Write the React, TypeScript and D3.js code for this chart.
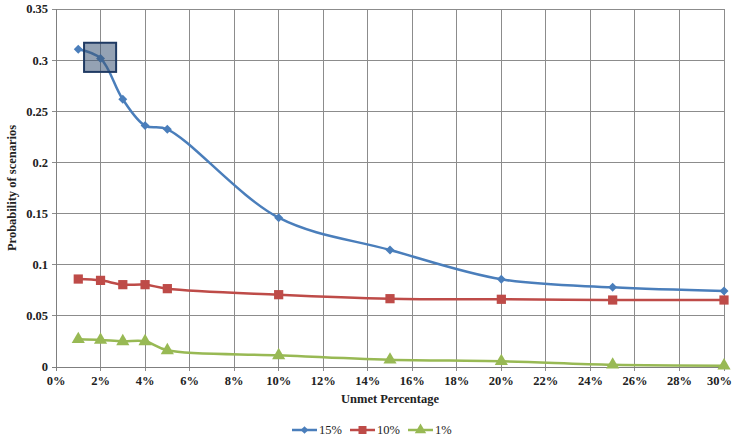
import React, { useEffect, useRef } from 'react';
import * as d3 from 'd3';

// unmet percentage (x, in %)
const unmet = [1, 2, 3, 4, 5, 10, 15, 20, 25, 30];

const series15 = [0.3106, 0.3017, 0.2617, 0.236, 0.2324, 0.146, 0.1144, 0.0857, 0.0779, 0.0743];
const series10 = [0.086, 0.0847, 0.0805, 0.0805, 0.0766, 0.0707, 0.0668, 0.0662, 0.0655, 0.0655];
const series1 = [0.0271, 0.0264, 0.0251, 0.0251, 0.0163, 0.0114, 0.0071, 0.0056, 0.0022, 0.0013];

const seriesNames = ['15%', '10%', '1%'];
const xTicks = d3.range(0, 31, 2);
const yTicks = [0, 0.05, 0.1, 0.15, 0.2, 0.25, 0.3, 0.35];

// highlighted box around the 2% point (data coords)
const boxX = [1.26, 2.7];
const boxY = [0.2885, 0.317];

const App: React.FC = () => {
  const svgRef = useRef<SVGSVGElement | null>(null);

  useEffect(() => {
    const W = 733, H = 441;
    const margin = { top: 9, right: 9, bottom: 74, left: 56 };
    const width = W - margin.left - margin.right;
    const height = H - margin.top - margin.bottom;

    const root = d3.select(svgRef.current);
    root.selectAll('*').remove();
    root.attr('width', W).attr('height', H)
      .style('background', 'white')
      .style('font-family', "'Times New Roman', 'Liberation Serif', serif");

    const svg = root.append('g').attr('transform', `translate(${margin.left},${margin.top})`);

    const x = d3.scaleLinear().domain([0, 30]).range([0, width]);
    const y = d3.scaleLinear().domain([0, 0.35]).range([height, 0]);

    const gridColor = '#8c8c8c';

    // grid
    svg.append('g')
      .selectAll('line.vg')
      .data(xTicks.slice(1))
      .enter()
      .append('line')
      .attr('x1', d => x(d)).attr('x2', d => x(d))
      .attr('y1', 0).attr('y2', height + 4)
      .attr('stroke', gridColor).attr('stroke-width', 1)
      .attr('shape-rendering', 'crispEdges');

    svg.append('g')
      .selectAll('line.hg')
      .data(yTicks.slice(1))
      .enter()
      .append('line')
      .attr('x1', -4).attr('x2', width)
      .attr('y1', d => y(d)).attr('y2', d => y(d))
      .attr('stroke', gridColor).attr('stroke-width', 1)
      .attr('shape-rendering', 'crispEdges');

    // axes lines
    svg.append('line')
      .attr('x1', -4).attr('x2', width).attr('y1', height).attr('y2', height)
      .attr('stroke', '#7f7f7f').attr('shape-rendering', 'crispEdges');
    svg.append('line')
      .attr('x1', 0).attr('x2', 0).attr('y1', 0).attr('y2', height + 4)
      .attr('stroke', '#7f7f7f').attr('shape-rendering', 'crispEdges');

    // tick labels
    svg.append('g')
      .selectAll('text')
      .data(yTicks)
      .enter()
      .append('text')
      .attr('x', -8)
      .attr('y', d => y(d))
      .attr('dy', '0.35em')
      .attr('text-anchor', 'end')
      .style('font-weight', 'bold')
      .style('font-size', '12.5px')
      .attr('fill', '#222')
      .text(d => (d === 0 ? '0' : String(d)));

    const last = xTicks[xTicks.length - 1];
    svg.append('g')
      .selectAll('text')
      .data(xTicks)
      .enter()
      .append('text')
      .attr('x', d => (d === last ? W - margin.left - 1 : x(d)))
      .attr('y', height + 18)
      .attr('text-anchor', d => (d === last ? 'end' : 'middle'))
      .style('font-weight', 'bold')
      .style('font-size', '12.5px')
      .attr('fill', '#222')
      .text(d => `${d}%`);

    // axis titles
    svg.append('text')
      .attr('x', width / 2)
      .attr('y', height + 36)
      .attr('text-anchor', 'middle')
      .style('font-weight', 'bold')
      .style('font-size', '12.5px')
      .attr('fill', '#222')
      .text('Unmet Percentage');

    svg.append('text')
      .attr('transform', `translate(${-40},${height / 2}) rotate(-90)`)
      .attr('text-anchor', 'middle')
      .style('font-weight', 'bold')
      .style('font-size', '12.5px')
      .attr('fill', '#222')
      .text('Probability of scenarios');

    const colors = ['#4a7ebb', '#be4b48', '#98b954'];
    // diamond drawn as a square turned 45 degrees
    const markers = [d3.symbolSquare, d3.symbolSquare, d3.symbolTriangle];
    const rotations = [45, 0, 0];
    const markerSizes = [40, 85, 75];
    const allSeries = [series15, series10, series1];

    const line = d3.line<number>()
      .x((_, i) => x(unmet[i]))
      .y(d => y(d))
      .curve(d3.curveCatmullRom.alpha(0.5));

    allSeries.forEach((vals, si) => {
      svg.append('path')
        .datum(vals)
        .attr('d', line)
        .attr('fill', 'none')
        .attr('stroke', colors[si])
        .attr('stroke-width', 2.5);

      svg.append('g')
        .selectAll('path')
        .data(vals)
        .enter()
        .append('path')
        .attr('transform', (d, i) => `translate(${x(unmet[i])},${y(d)}) rotate(${rotations[si]})`)
        .attr('d', d3.symbol().type(markers[si]).size(markerSizes[si])())
        .attr('fill', colors[si]);
    });

    // highlight box
    svg.append('rect')
      .attr('x', x(boxX[0]))
      .attr('y', y(boxY[1]))
      .attr('width', x(boxX[1]) - x(boxX[0]))
      .attr('height', y(boxY[0]) - y(boxY[1]))
      .attr('fill', '#3d5577')
      .attr('fill-opacity', 0.55)
      .attr('stroke', '#1f3a63')
      .attr('stroke-width', 2);

    // legend
    const legendX = [292, 350, 408];
    const legendY = 430;
    seriesNames.forEach((name, i) => {
      const g = root.append('g').attr('transform', `translate(${legendX[i]},${legendY})`);
      g.append('line')
        .attr('x1', 0).attr('x2', 25).attr('y1', 0).attr('y2', 0)
        .attr('stroke', colors[i]).attr('stroke-width', 2.5);
      g.append('path')
        .attr('transform', `translate(12.5,0) rotate(${rotations[i]})`)
        .attr('d', d3.symbol().type(markers[i]).size(markerSizes[i] * 0.75)())
        .attr('fill', colors[i]);
      g.append('text')
        .attr('x', 27)
        .attr('y', 0)
        .attr('dy', '0.35em')
        .style('font-size', '12.5px')
        .attr('fill', '#222')
        .text(name);
    });
  }, []);

  return (
    <div style={{ position: 'absolute', left: 0, top: 0 }}>
      <svg ref={svgRef}></svg>
    </div>
  );
};

export default App;
